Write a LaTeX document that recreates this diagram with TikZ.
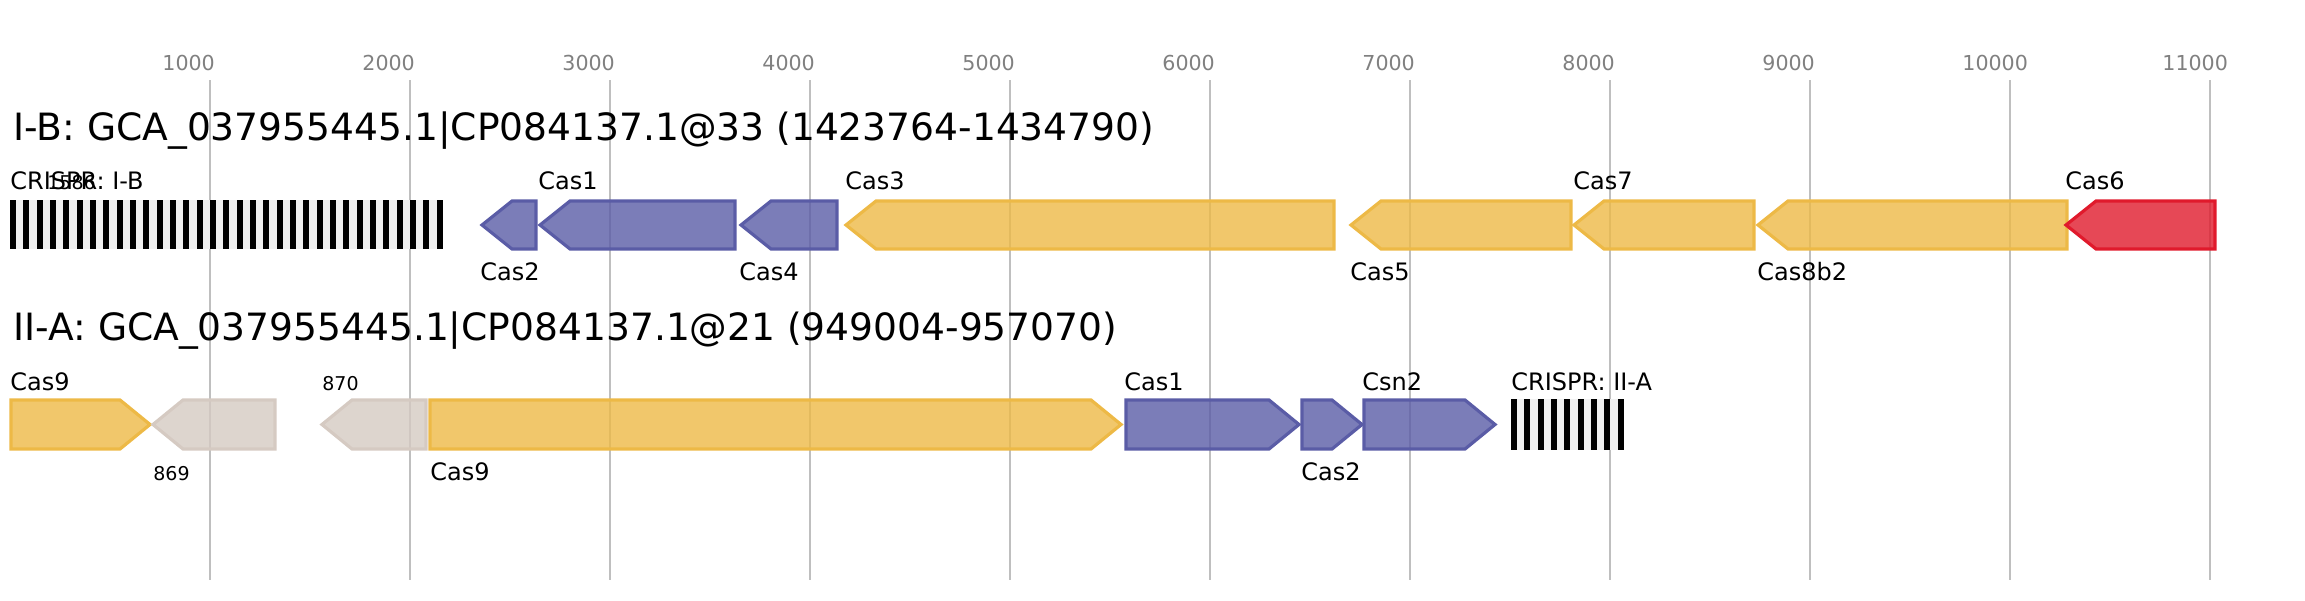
\documentclass[tikz,border=0pt]{standalone}
\usepackage{fontspec}
\setmainfont{DejaVu Sans}
\definecolor{casblue}{HTML}{5A5CA6}
\definecolor{casyellow}{HTML}{EDB946}
\definecolor{casred}{HTML}{E01A2C}
\definecolor{casgray}{HTML}{D5CAC2}
\definecolor{gridgray}{HTML}{BFBFBF}
\definecolor{ticktext}{HTML}{808080}
\definecolor{arraybg}{HTML}{F0F0F0}
\begin{document}
\begin{tikzpicture}[x=0.5pt,y=-0.5pt,
    gene/.style={line width=1.6pt,line join=miter,fill opacity=0.8},
    bluegene/.style={gene,draw=casblue,fill=casblue},
    yellowgene/.style={gene,draw=casyellow,fill=casyellow},
    redgene/.style={gene,draw=casred,fill=casred},
    graygene/.style={gene,draw=casgray,fill=casgray},
    gridline/.style={draw=gridgray,line width=1pt},
    ticklbl/.style={anchor=base west,inner sep=0pt,text=ticktext,font=\fontsize{10.3}{12}\selectfont},
    titlelbl/.style={anchor=base west,inner sep=0pt,font=\fontsize{18.8}{22}\selectfont},
    lbl/.style={anchor=base west,inner sep=0pt,font=\fontsize{12}{14}\selectfont},
    numlbl/.style={anchor=base west,inner sep=0pt,font=\fontsize{9.5}{11}\selectfont}]
    \useasboundingbox (0,0) rectangle (2305,600);
    % scale: x = 10 + 0.2*bp
    \foreach \k in {1000,2000,...,11000} {
        \draw[gridline] ({10+0.2*\k},80) -- ({10+0.2*\k},580);
        \node[ticklbl] (t\k) at ({10+0.2*\k-48},70) {\k};
    }

    % I-B
    \node[titlelbl] (titleB) at (13,140) {I-B: GCA\_037955445.1|CP084137.1@33 (1423764-1434790)};
    \fill[arraybg] (10,200) rectangle (443,249);
    \foreach \i in {0,...,32}
        \fill[black] ({10+13.33*\i},200) rectangle ({16+13.33*\i},249);
    \foreach \a/\b/\s in {482/536/bluegene,540/735/bluegene,741/837/bluegene,
                          846/1334/yellowgene,1351/1571/yellowgene,1574/1754/yellowgene,
                          1758/2067/yellowgene,2066/2215/redgene}
        \draw[\s] (\a,225) -- ({\a+30},201) -- (\b,201) -- (\b,249) -- ({\a+30},249) -- cycle;
    \node[lbl] (crB) at (10,189) {CRISPR: I-B};
    \node[numlbl] (n1586) at (47,189) {1586};
    \node[lbl] (cas2B) at (480,280) {Cas2};
    \node[lbl] (cas1B) at (538,189) {Cas1};
    \node[lbl] (cas4B) at (739,280) {Cas4};
    \node[lbl] (cas3B) at (845,189) {Cas3};
    \node[lbl] (cas5B) at (1350,280) {Cas5};
    \node[lbl] (cas7B) at (1573,189) {Cas7};
    \node[lbl] (cas8B) at (1757,280) {Cas8b2};
    \node[lbl] (cas6B) at (2065,189) {Cas6};

    % II-A
    \node[titlelbl] (titleA) at (13,340) {II-A: GCA\_037955445.1|CP084137.1@21 (949004-957070)};
    \foreach \a/\b/\s in {11/150/yellowgene,430/1121/yellowgene,1126/1299/bluegene,
                          1302/1362/bluegene,1364/1495/bluegene}
        \draw[\s] (\a,400) -- ({\b-30},400) -- (\b,424.5) -- ({\b-30},449) -- (\a,449) -- cycle;
    \foreach \a/\b in {153/275,322/426}
        \draw[graygene] (\a,424.5) -- ({\a+30},400) -- (\b,400) -- (\b,449) -- ({\a+30},449) -- cycle;
    \fill[arraybg] (1511,399) rectangle (1623,450);
    \foreach \i in {0,...,8}
        \fill[black] ({1511+13.33*\i},399) rectangle ({1517+13.33*\i},450);
    \node[lbl] (cas9A) at (10,390) {Cas9};
    \node[numlbl] (n869) at (153,480) {869};
    \node[numlbl] (n870) at (322,390) {870};
    \node[lbl] (cas9bA) at (430,480) {Cas9};
    \node[lbl] (cas1A) at (1124,390) {Cas1};
    \node[lbl] (cas2A) at (1301,480) {Cas2};
    \node[lbl] (csn2A) at (1362,390) {Csn2};
    \node[lbl] (crA) at (1511,390) {CRISPR: II-A};
\end{tikzpicture}
\end{document}
